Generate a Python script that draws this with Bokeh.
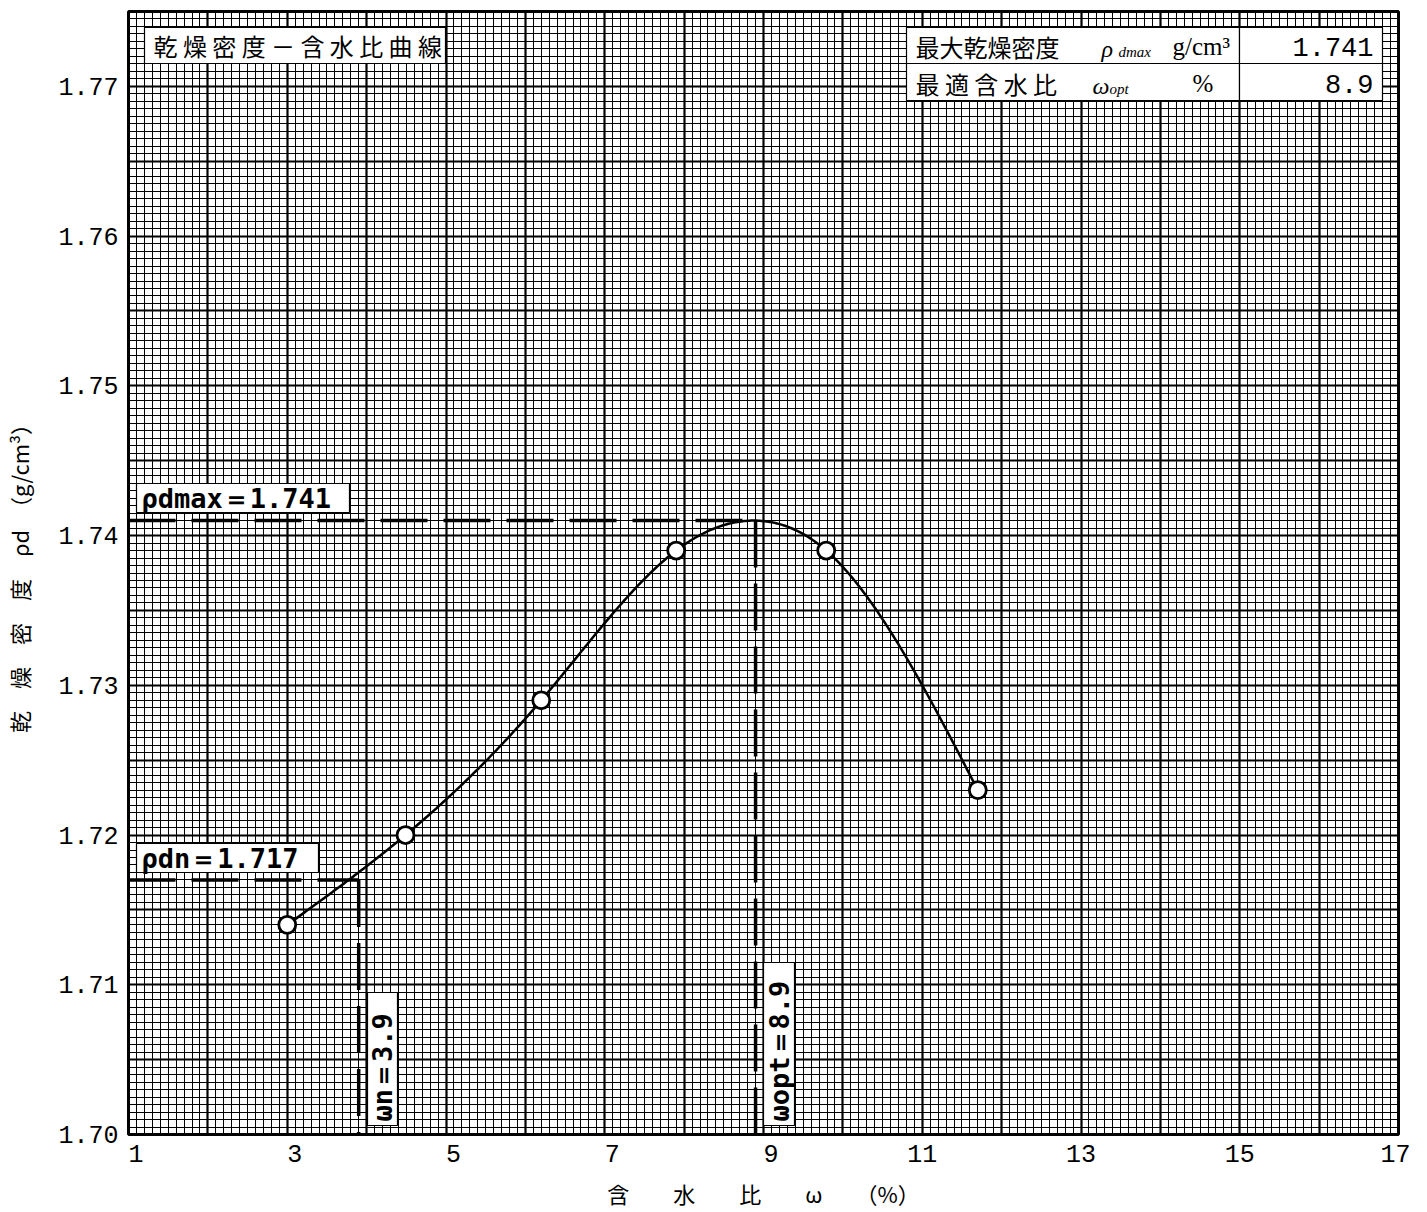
import math
import numpy as np
from bokeh.plotting import figure
from bokeh.models import (Range1d, FixedTicker, Grid, Label, BoxAnnotation,
                          PrintfTickFormatter)
from bokeh.embed import file_html
from bokeh.resources import INLINE

# ---------------- data ----------------
water_content = [3.0, 4.49, 6.2, 7.9, 9.79, 11.7]          # ω (%)
dry_density = [1.714, 1.720, 1.729, 1.739, 1.739, 1.723]   # ρd (g/cm3)
w_opt = 8.9
rho_dmax = 1.741
w_n = 3.9
rho_dn = 1.717

x_ticks = [1, 3, 5, 7, 9, 11, 13, 15, 17]
y_ticks = [1.70, 1.71, 1.72, 1.73, 1.74, 1.75, 1.76, 1.77]
X_MIN, X_MAX = 1, 17
Y_MIN, Y_MAX = 1.70, 1.775

title_text = "乾 燥 密 度 － 含 水 比 曲 線"
x_title = "含\u3000\u3000水\u3000\u3000比\u3000\u3000ω\u3000\u3000（%）"
y_title = "乾\u3000燥\u3000密\u3000度\u3000ρd\u3000（g/cm³）"

# ---------------- layout helpers (reference page pixels -> data) ----------------
FL, FR, FT, FB = 128, 1398, 11, 1134


def X(px):
    return X_MIN + (px - FL) * (X_MAX - X_MIN) / (FR - FL)


def Y(py):
    return Y_MIN + (FB - py) * (Y_MAX - Y_MIN) / (FB - FT)


CJK = "Noto Sans CJK JP"
MONO = "Liberation Mono"
SERIF = "Liberation Serif"
BMONO = "DejaVu Sans Mono"

# ---------------- smooth curve through the points and the peak ----------------
knots = sorted(list(zip(water_content, dry_density)) + [(w_opt, rho_dmax)])
kx = np.array([k[0] for k in knots])
ky = np.array([k[1] for k in knots])


def natural_spline(x, y, xs):
    n = len(x)
    h = np.diff(x)
    A = np.zeros((n, n))
    b = np.zeros(n)
    A[0, 0] = 1
    A[-1, -1] = 1
    for i in range(1, n - 1):
        A[i, i - 1] = h[i - 1]
        A[i, i] = 2 * (h[i - 1] + h[i])
        A[i, i + 1] = h[i]
        b[i] = 3 * ((y[i + 1] - y[i]) / h[i] - (y[i] - y[i - 1]) / h[i - 1])
    c = np.linalg.solve(A, b)
    out = []
    for xv in xs:
        i = min(max(np.searchsorted(x, xv) - 1, 0), n - 2)
        t = xv - x[i]
        bb = (y[i + 1] - y[i]) / h[i] - h[i] * (2 * c[i] + c[i + 1]) / 3
        d = (c[i + 1] - c[i]) / (3 * h[i])
        out.append(y[i] + bb * t + c[i] * t ** 2 + d * t ** 3)
    return np.array(out)


curve_x = np.linspace(kx[0], kx[-1], 400)
curve_y = natural_spline(kx, ky, curve_x)

# ---------------- figure ----------------
p = figure(frame_width=FR - FL, frame_height=FB - FT,
           x_range=Range1d(X_MIN, X_MAX), y_range=Range1d(Y_MIN, Y_MAX),
           output_backend="svg", toolbar_location=None,
           min_border_left=120, min_border_top=11, min_border_right=12,
           min_border_bottom=0,
           background_fill_color="white", border_fill_color="white")

p.xgrid.visible = False
p.ygrid.visible = False
p.outline_line_color = "black"
p.outline_line_width = 3

# graph-paper grid
minor_x = [round(v, 2) for v in np.arange(X_MIN, X_MAX + 1e-9, 0.1)
           if abs(v - round(v)) > 1e-6]
major_x = list(range(X_MIN, X_MAX + 1))
minor_y = [round(v, 4) for v in np.arange(Y_MIN, Y_MAX + 1e-9, 0.0005)
           if abs(v / 0.005 - round(v / 0.005)) > 1e-6]
major_y = [round(v, 3) for v in np.arange(Y_MIN, Y_MAX + 1e-9, 0.005)]

for dim, ticks in ((0, minor_x), (1, minor_y)):
    p.add_layout(Grid(dimension=dim, ticker=FixedTicker(ticks=ticks),
                      grid_line_color="black", grid_line_width=1,
                      grid_line_alpha=1.0))
for dim, ticks in ((0, major_x), (1, major_y)):
    p.add_layout(Grid(dimension=dim, ticker=FixedTicker(ticks=ticks),
                      grid_line_color="black", grid_line_width=2.2))

# axes
for ax in (p.xaxis, p.yaxis):
    ax.axis_line_color = None
    ax.major_tick_line_color = None
    ax.minor_tick_line_color = None
    ax.major_tick_out = 0
    ax.major_tick_in = 0
    ax.minor_tick_out = 0
    ax.major_label_text_font = MONO
    ax.major_label_text_font_size = "25px"
    ax.major_label_text_color = "black"
    ax.axis_label_text_font = CJK
    ax.axis_label_text_font_size = "22px"
    ax.axis_label_text_font_style = "normal"
    ax.axis_label_text_color = "black"

p.xaxis.ticker = FixedTicker(ticks=x_ticks)
p.xaxis.major_label_overrides = {t: ("\u00a0" + str(t) if t < 10 else str(t)) for t in x_ticks}
p.xaxis.major_label_standoff = 6
p.xaxis.axis_label = x_title
p.xaxis.axis_label_standoff = 4

p.yaxis.ticker = FixedTicker(ticks=y_ticks)
p.yaxis.formatter = PrintfTickFormatter(format="%.2f")
p.yaxis.major_label_standoff = 10
p.yaxis.axis_label = y_title
p.yaxis.axis_label_standoff = 20

# dashed reference lines
dash = dict(line_color="black", line_width=3.5, line_dash="47 16")
p.line([X_MIN, w_opt], [rho_dmax, rho_dmax], **dash)
p.line([w_opt, w_opt], [rho_dmax, Y_MIN], **dash)
p.line([X_MIN, w_n], [rho_dn, rho_dn], **dash)
p.line([w_n, w_n], [rho_dn, Y_MIN], **dash)

# curve and points
p.line(curve_x, curve_y, line_color="black", line_width=2.5)
p.scatter(water_content, dry_density, size=17, marker="circle",
          fill_color="white", line_color="black", line_width=2.8)


def box(l, r, t, b, lw=1.2, lc="black"):
    p.add_layout(BoxAnnotation(left=X(l), right=X(r), top=Y(t), bottom=Y(b),
                               fill_color="white", fill_alpha=1.0,
                               line_color=lc, line_width=lw, line_alpha=1.0))


def label(px, py, text, font, size, align="left", style="normal", angle=0.0):
    p.add_layout(Label(x=X(px), y=Y(py), text=text, text_font=font,
                       text_font_size=size, text_align=align,
                       text_baseline="middle", text_font_style=style,
                       text_color="black", angle=angle))


# title box
box(144, 445, 27, 63)
label(153, 45, title_text, CJK, "24px")

# result table
box(906, 1239, 27, 63)
box(1239, 1382, 27, 63)
box(906, 1239, 63, 100)
box(1239, 1382, 63, 100)
label(915, 46, "最大乾燥密度", CJK, "24px")
label(1101, 48, "ρ", SERIF, "24px", style="italic")
label(1118, 51, "dmax", SERIF, "15px", style="italic")
label(1172, 46, "g/cm³", SERIF, "25px")
label(1373, 46, f"{rho_dmax:.3f}", MONO, "27px", align="right")
label(915, 83, "最 適 含 水 比", CJK, "24px")
label(1092, 85, "ω", SERIF, "24px", style="italic")
label(1109, 88, "opt", SERIF, "15px", style="italic")
label(1192, 83, "%", SERIF, "25px")
label(1373, 83, f"{w_opt:.1f}", MONO, "27px", align="right")

# boxed annotations on the chart
box(136, 349, 483, 512)
label(141, 498, f"ρdmax＝{rho_dmax:.3f}", BMONO, "27px", style="bold")
box(136, 318, 843, 872)
label(141, 858, f"ρdn＝{rho_dn:.3f}", BMONO, "27px", style="bold")
box(367, 397, 992, 1125)
label(382, 1121, f"ωn＝{w_n:.1f}", BMONO, "27px", style="bold", angle=math.pi / 2)
box(763, 794, 962, 1125)
label(778.5, 1121, f"ωopt＝{w_opt:.1f}", BMONO, "27px", style="bold", angle=math.pi / 2)

open("out.html", "w").write(file_html(p, INLINE))
